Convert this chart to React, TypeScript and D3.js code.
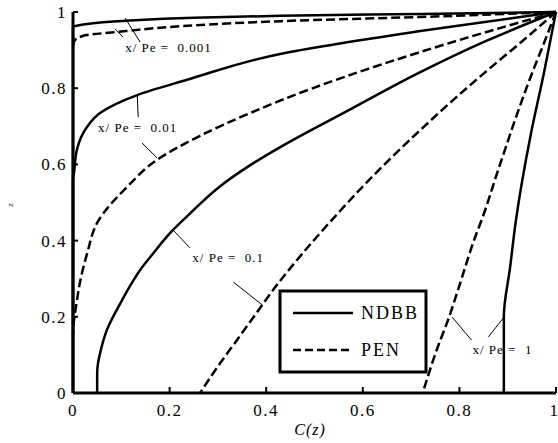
import React from "react";
import * as d3 from "d3";

// C(z) vs z profiles, NDBB (solid) and PEN (dashed), for four x/Pe values
const xTicks = [0, 0.2, 0.4, 0.6, 0.8, 1];
const yTicks = [0, 0.2, 0.4, 0.6, 0.8, 1];

const ndbb001: [number, number][] = [
  [0, 0], [0, 0.96], [0.004, 0.963], [0.025, 0.968], [0.11, 0.977],
  [0.25, 0.985], [0.43, 0.99], [0.72, 0.995], [1, 1],
];
const pen001: [number, number][] = [
  [0, 0.91], [0.002, 0.922], [0.02, 0.937], [0.11, 0.95], [0.25, 0.965],
  [0.43, 0.976], [0.72, 0.987], [1, 1],
];
const ndbb01: [number, number][] = [
  [0, 0], [0, 0.56], [0.002, 0.577], [0.008, 0.638], [0.029, 0.698],
  [0.056, 0.735], [0.133, 0.782], [0.236, 0.822], [0.429, 0.89],
  [0.719, 0.95], [1, 1],
];
const pen01: [number, number][] = [
  [0, 0.15], [0.002, 0.19], [0.006, 0.225], [0.015, 0.294], [0.029, 0.365],
  [0.052, 0.451], [0.112, 0.541], [0.174, 0.612], [0.263, 0.675],
  [0.367, 0.735], [0.43, 0.768], [0.719, 0.895], [1, 1],
];
const ndbb1: [number, number][] = [
  [0.05, 0], [0.05, 0.05], [0.052, 0.08], [0.056, 0.104], [0.07, 0.165],
  [0.1, 0.24], [0.12, 0.285], [0.139, 0.323], [0.165, 0.365], [0.207, 0.428],
  [0.243, 0.472], [0.299, 0.537], [0.367, 0.598], [0.43, 0.646],
  [0.575, 0.745], [0.719, 0.842], [0.859, 0.926], [1, 1],
];
const pen1: [number, number][] = [
  [0.263, 0], [0.3, 0.07], [0.34, 0.14], [0.38, 0.21], [0.42, 0.28],
  [0.471, 0.36], [0.533, 0.45], [0.637, 0.59], [0.719, 0.69],
  [0.788, 0.77], [0.859, 0.848], [0.927, 0.92], [1, 1],
];
const ndbb10: [number, number][] = [
  [0.892, 0], [0.892, 0.2], [0.905, 0.33], [0.917, 0.453], [0.948, 0.68],
  [0.975, 0.84], [1, 1],
];
const pen10: [number, number][] = [
  [0.724, 0], [0.755, 0.12], [0.776, 0.19], [0.797, 0.27], [0.83, 0.4],
  [0.852, 0.475], [0.875, 0.565], [0.9, 0.66], [0.925, 0.752],
  [0.95, 0.838], [0.975, 0.918], [1, 1],
];

const solidSeries = [ndbb001, ndbb01, ndbb1, ndbb10];
const dashedSeries = [pen001, pen01, pen1, pen10];

// curve labels: text, anchor position (data coords), leader lines
const labelTexts = ["x/ Pe =  0.001", "x/ Pe =  0.01", "x/ Pe =  0.1", "x/ Pe =  1"];
const labelPos: [number, number][] = [
  [0.108, 0.895], [0.052, 0.685], [0.247, 0.344], [0.827, 0.102],
];
const leaders: [number, number, number, number][] = [
  [0.108, 0.984, 0.139, 0.921],
  [0.087, 0.955, 0.104, 0.934],
  [0.133, 0.782, 0.135, 0.724],
  [0.143, 0.656, 0.174, 0.617],
  [0.207, 0.428, 0.242, 0.381],
  [0.332, 0.291, 0.392, 0.231],
  [0.785, 0.199, 0.825, 0.139],
  [0.891, 0.197, 0.86, 0.147],
];

const legendNames = ["NDBB", "PEN"];

const width = 558;
const height = 443;
const margin = { top: 12, right: 2, bottom: 50, left: 73 };

export default function App() {
  const x = d3.scaleLinear().domain([0, 1]).range([margin.left, width - margin.right]);
  const y = d3.scaleLinear().domain([0, 1]).range([height - margin.bottom, margin.top]);

  // z rises along every profile, so interpolate C as a monotone function of z
  const line = d3
    .line<[number, number]>()
    .x((d) => x(d[0]))
    .y((d) => y(d[1]))
    .curve(d3.curveMonotoneY);
  const path = (s: [number, number][]) => line(s.slice().reverse()) || "";

  const font = "Liberation Serif, Times New Roman, serif";
  const x0 = x(0);
  const y0 = y(0);
  const fmt = (t: number) => (t === 0 || t === 1 ? String(t) : t.toFixed(1));

  // legend box layout (pixels)
  const lg = { x: 280, y: 291, w: 146, h: 81 };

  return (
    <svg
      width={width}
      height={height}
      style={{ position: "absolute", left: 0, top: 0, background: "#fff", fontFamily: font }}
    >
      <rect width={width} height={height} fill="#fff" />

      {/* curves */}
      {solidSeries.map((s, i) => (
        <path key={"s" + i} d={path(s)} fill="none" stroke="#000" strokeWidth={2.5} />
      ))}
      {dashedSeries.map((s, i) => (
        <path
          key={"d" + i}
          d={path(s)}
          fill="none"
          stroke="#000"
          strokeWidth={2.5}
          strokeDasharray="9,4"
        />
      ))}

      {/* axes */}
      <line x1={x0} x2={x(1)} y1={y0} y2={y0} stroke="#000" strokeWidth={3} />
      <line x1={x0} x2={x0} y1={y0} y2={y(1)} stroke="#000" strokeWidth={3} />
      {xTicks.map((t) => (
        <g key={"xt" + t}>
          <line x1={x(t)} x2={x(t)} y1={y0} y2={y0 - 6} stroke="#000" strokeWidth={2} />
          <text
            x={t === 1 ? width : x(t)}
            y={416}
            textAnchor={t === 1 ? "end" : "middle"}
            fontSize={17}
            letterSpacing={t === 1 ? 0 : 1.5}
          >
            {fmt(t)}
          </text>
        </g>
      ))}
      {yTicks.map((t) => (
        <g key={"yt" + t}>
          <line x1={x0} x2={x0 + 5} y1={y(t)} y2={y(t)} stroke="#000" strokeWidth={2} />
          <text
            x={67}
            y={y(t)}
            dy="0.35em"
            textAnchor="end"
            fontSize={17}
            letterSpacing={1.5}
          >
            {fmt(t)}
          </text>
        </g>
      ))}

      {/* axis titles */}
      <text x={310} y={435} textAnchor="middle" fontSize={16} fontStyle="italic" letterSpacing={1}>
        C(z)
      </text>
      <text
        transform={`translate(13,205) rotate(-90)`}
        textAnchor="middle"
        fontSize={9}
        fontStyle="italic"
      >
        z
      </text>

      {/* leader lines and labels */}
      {leaders.map((l, i) => (
        <line
          key={"l" + i}
          x1={x(l[0])}
          y1={y(l[1])}
          x2={x(l[2])}
          y2={y(l[3])}
          stroke="#000"
          strokeWidth={1}
        />
      ))}
      {labelTexts.map((t, i) => (
        <text
          key={"lb" + i}
          x={x(labelPos[i][0])}
          y={y(labelPos[i][1])}
          fontSize={13}
          letterSpacing={1}
          style={{ whiteSpace: "pre" }}
        >
          {t}
        </text>
      ))}

      {/* legend */}
      <rect x={lg.x} y={lg.y} width={lg.w} height={lg.h} fill="#fff" stroke="#000" strokeWidth={3} />
      {legendNames.map((n, i) => (
        <g key={n}>
          <line
            x1={lg.x + 13}
            x2={lg.x + 73}
            y1={lg.y + 22 + i * 37}
            y2={lg.y + 22 + i * 37}
            stroke="#000"
            strokeWidth={2.5}
            strokeDasharray={i === 1 ? "8,4" : undefined}
          />
          <text
            x={lg.x + 81}
            y={lg.y + 22 + i * 37}
            dy="0.35em"
            fontSize={18}
            letterSpacing={2}
          >
            {n}
          </text>
        </g>
      ))}
    </svg>
  );
}
